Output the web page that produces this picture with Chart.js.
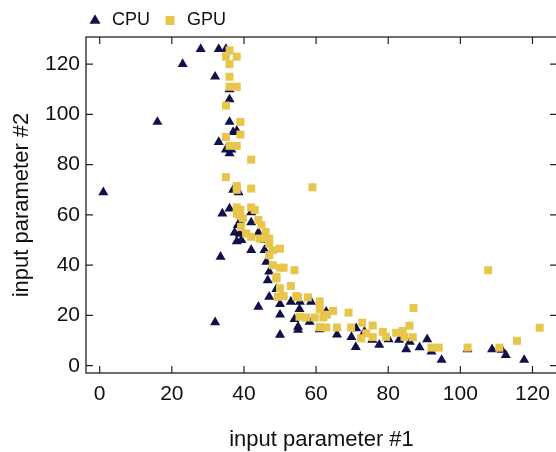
<!DOCTYPE html>
<html><head><meta charset="utf-8">
<script src="https://cdn.jsdelivr.net/npm/chart.js@4"></script>
<style>html,body{margin:0;padding:0;overflow:hidden;background:#fff}</style>
</head><body>
<canvas id="c" width="566" height="452" style="display:block;width:566px;height:452px"></canvas>
<script>
const seriesLabels = ['CPU', 'GPU'];
const cpuX = [1,16,23,28,33,35,32,36,36,36,37,38,33,35,36.5,36,38,37,38.5,36,34,42,39,42,38.3,37.4,38.8,38,39.3,44,45.7,45.7,42,33.5,46.2,47,46.6,49,47,50,44,50,50,32,53,55.5,58.6,55.4,54,55,55,58.2,61,62.8,65.8,69.8,71,71.1,73.4,75.6,77.5,80.1,83,85,86,88.7,90.8,92,94.8,102,108.8,111.5,112.6,117.7];
const cpuY = [69,97,120,126,126,126,115,110,106,97,93,93.5,89,86,86,84.5,70.5,70,69,62.5,60.5,61,57,57,56,53,52.5,49.5,50,53,50,46,46,43.3,41.3,37.4,34,30.5,27.4,24.5,23.4,20.3,12.3,17.3,25.4,25.4,25.4,22.5,18.5,15.5,14.3,17.5,14.5,21.5,12.4,11.4,7.4,14.9,13.5,10.3,8.3,10.5,10.3,6.5,9.5,7.3,10.5,5.6,2.3,6.5,6.5,6.3,4.2,2.3];
const gpuX = [36,35,38,36,36,36,38,35,39,35,39,36,38,42,35,38,38,42,59,38,42,39,43,38,38.8,39.7,44,44.8,39.2,40.6,42,46,47,47,44.3,45.7,50,48,47,48,50,51,54,49,49,50,53,49.4,51,54.5,55,57.7,61,61,63,64.7,69,55.4,57.3,59.6,62,61,62.8,65.8,69.7,72.8,75.7,73.9,72.5,75.7,78.5,79.4,82.2,84,85.9,84.5,86.8,87,92,94,102,107.7,110.8,115.7,122];
const gpuY = [125.5,123,123,120,115,111,111,103.5,97,91,92,87.5,87.5,82,75,71.5,70,70.5,71,63,63,62,62,60.5,59.9,58.6,58,56,55.2,52.6,51.3,53.2,50.6,48.6,50.6,50.6,46.6,46,44,40,39,39,38,35.4,34.7,30.8,31.7,27.4,27.7,27.7,27.2,27.2,25.6,22.5,20.3,21.8,21.1,19.5,19.2,19.2,19.2,15.3,15.2,15.2,15.2,17.1,16,12.9,10.9,11.4,13.5,11.5,13.1,13.8,15.9,11.5,11.3,23,7.2,7.2,7.2,38,7.2,9.9,15.1];
const xTicks = [0, 20, 40, 60, 80, 100, 120];
const yTicks = [0, 20, 40, 60, 80, 100, 120];
const xTitle = 'input parameter #1';
const yTitle = 'input parameter #2';

const zip = (xs, ys) => xs.map((x, i) => ({x: x, y: ys[i]}));
const FONT = "'Liberation Sans', Arial, Helvetica, sans-serif";
const TXT = '#111';

const framePlugin = {
  id: 'frame',
  afterLayout(chart) {
    if (chart.legend) { chart.legend.left = 75; chart.legend.top = -0.5; }
  },
  beforeDatasetsDraw(chart) {
    const {ctx, chartArea: a, scales: {x, y}} = chart;
    ctx.save();
    ctx.strokeStyle = '#222';
    ctx.lineWidth = 1.3;
    ctx.strokeRect(a.left, a.top, a.right - a.left, a.bottom - a.top);
    ctx.lineWidth = 1.2;
    ctx.beginPath();
    const L = 7;
    xTicks.forEach(v => {
      const px = x.getPixelForValue(v);
      ctx.moveTo(px, a.bottom); ctx.lineTo(px, a.bottom - L);
      ctx.moveTo(px, a.top); ctx.lineTo(px, a.top + L);
    });
    yTicks.forEach(v => {
      const py = y.getPixelForValue(v);
      ctx.moveTo(a.left, py); ctx.lineTo(a.left + L, py);
      ctx.moveTo(a.right, py); ctx.lineTo(a.right - L, py);
    });
    ctx.stroke();
    ctx.restore();
  }
};

new Chart(document.getElementById('c'), {
  type: 'scatter',
  data: {
    datasets: [
      { label: seriesLabels[0], data: zip(cpuX, cpuY), pointStyle: 'triangle', pointRadius: 5.8,
        backgroundColor: '#10104a', borderColor: '#10104a', borderWidth: 0, order: 1 },
      { label: seriesLabels[1], data: zip(gpuX, gpuY), pointStyle: 'rect', pointRadius: 5.66,
        backgroundColor: '#e8c54b', borderColor: '#e8c54b', borderWidth: 0, order: 0 }
    ]
  },
  options: {
    responsive: false,
    animation: false,
    devicePixelRatio: 1,
    layout: { padding: { top: -3, right: 9, left: 0, bottom: 0 } },
    plugins: {
      tooltip: { enabled: false },
      legend: {
        display: true, position: 'top', align: 'start',
        labels: {
          usePointStyle: true, boxWidth: 16, boxHeight: 9, padding: 12,
          font: { family: FONT, size: 18 }, color: TXT,
          sort: (a, b) => a.datasetIndex - b.datasetIndex
        }
      }
    },
    scales: {
      x: {
        type: 'linear', min: -3.8, max: 126.8,
        afterBuildTicks: s => { s.ticks = xTicks.map(v => ({value: v})); },
        afterFit: s => { s.height = 79; },
        grid: { display: false, drawTicks: false },
        border: { display: false },
        ticks: { padding: 8.5, autoSkip: false, maxRotation: 0, font: { family: FONT, size: 21 }, color: TXT },
        title: { display: true, text: xTitle, color: TXT, font: { family: FONT, size: 22, lineHeight: 1 }, padding: { top: 0, bottom: 0.6 } }
      },
      y: {
        type: 'linear', min: -2.9, max: 130.8,
        afterBuildTicks: s => { s.ticks = yTicks.map(v => ({value: v})); },
        afterFit: s => { s.width = 86; },
        grid: { display: false, drawTicks: false },
        border: { display: false },
        ticks: { padding: 6, autoSkip: false, font: { family: FONT, size: 21 }, color: TXT },
        title: { display: true, text: yTitle, color: TXT, font: { family: FONT, size: 22, lineHeight: 1 }, padding: { top: 10.5, bottom: 0 } }
      }
    }
  },
  plugins: [framePlugin]
});
</script>
</body></html>
